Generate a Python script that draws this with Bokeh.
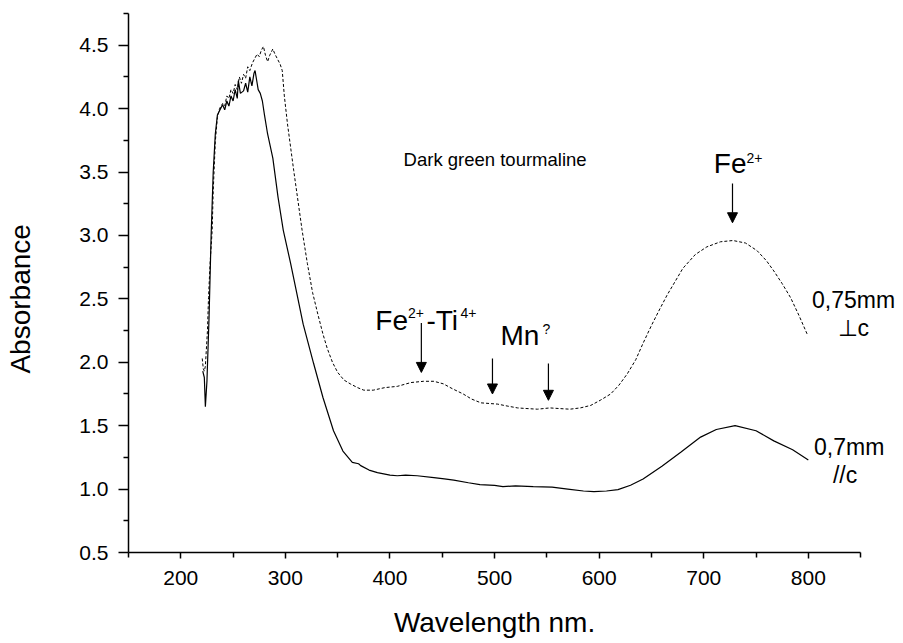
from bokeh.plotting import figure
from bokeh.models import (Range1d, FixedTicker, PrintfTickFormatter, Label, Arrow, NormalHead,
                          LinearAxis)
from bokeh.embed import file_html
from bokeh.resources import INLINE

# ---- data ----
perp_nm = [220.5, 221.5, 222.5, 223.5, 225.5, 226.5, 228, 230, 231, 233, 235, 237, 240, 242, 244, 246,
           248, 250, 252, 254, 256, 258, 260, 262, 264, 266, 268.5, 271, 273, 275, 277, 279, 281, 283,
           285, 288, 290, 292.5, 295, 297, 299, 302, 308, 316, 321, 326, 331, 336, 340, 345, 350, 356,
           362, 369, 375, 384, 395, 407, 420, 432, 442, 451, 460, 470, 478, 487, 495, 503, 512, 522,
           531, 541, 547, 553, 562, 572, 582, 592, 601, 611, 619, 627, 635, 642, 650, 658, 665, 680, 692, 703,
           716, 728, 740, 751, 760, 767, 775, 783, 791, 799]
perp_abs = [2.03, 1.95, 1.93, 1.97, 2.25, 2.51, 2.78, 3.04, 3.35, 3.74, 3.93, 4.00, 4.04, 4.02, 4.10, 4.08,
            4.15, 4.12, 4.19, 4.15, 4.25, 4.20, 4.27, 4.24, 4.33, 4.30, 4.36, 4.40, 4.43, 4.41, 4.46, 4.49, 4.42, 4.37,
            4.42, 4.47, 4.43, 4.39, 4.35, 4.30, 4.10, 3.88, 3.51, 3.04, 2.78, 2.55, 2.38, 2.22, 2.11, 2.00, 1.92, 1.86,
            1.83, 1.80, 1.78, 1.78, 1.80, 1.81, 1.84, 1.85, 1.85, 1.83, 1.79, 1.75, 1.71, 1.68, 1.675, 1.67, 1.655, 1.64,
            1.635, 1.63, 1.635, 1.64, 1.635, 1.63, 1.64, 1.66, 1.70, 1.75, 1.82, 1.91, 2.02, 2.15, 2.29, 2.42, 2.53, 2.74, 2.85, 2.91,
            2.95, 2.96, 2.94, 2.88, 2.80, 2.72, 2.62, 2.51, 2.37, 2.22]

par_nm = [221, 222.5, 223.5, 225, 227, 229, 231, 233, 235, 238, 240, 242, 244, 246, 248, 250, 252, 254,
          255, 257, 260, 262, 264, 266, 268, 270, 271, 273, 274, 276, 278, 280, 283, 288, 293, 298, 305,
          310, 317, 327, 336, 346, 355, 364, 370, 372, 380, 388, 400, 407, 415, 426, 442, 452, 461, 475,
          486, 500, 508, 520, 537, 555, 570, 585, 595, 607, 618, 630, 642, 660, 678, 697, 712, 730, 750,
          767, 785, 800]
par_abs = [1.93, 1.88, 1.65, 1.85, 2.35, 3.0, 3.5, 3.8, 3.95, 4.00, 4.03, 3.99, 4.06, 4.02, 4.10, 4.06, 4.15, 4.08,
           4.22, 4.12, 4.14, 4.20, 4.13, 4.25, 4.18, 4.28, 4.30, 4.20, 4.15, 4.12, 4.06, 3.95, 3.80, 3.61, 3.30, 3.04, 2.78,
           2.58, 2.30, 1.99, 1.72, 1.46, 1.30, 1.21, 1.20, 1.185, 1.15, 1.13, 1.11, 1.105, 1.11, 1.105, 1.09, 1.08, 1.07, 1.05,
           1.035, 1.03, 1.02, 1.025, 1.02, 1.015, 1.00, 0.985, 0.98, 0.985, 0.996, 1.03, 1.08, 1.18, 1.29, 1.41, 1.47, 1.50, 1.46,
           1.38, 1.31, 1.23]

x_major = [200, 300, 400, 500, 600, 700, 800]
x_minor = [150, 250, 350, 450, 550, 650, 750, 850]
y_major = [0.5, 1.0, 1.5, 2.0, 2.5, 3.0, 3.5, 4.0, 4.5]
y_minor = [0.75, 1.25, 1.75, 2.25, 2.75, 3.25, 3.75, 4.25, 4.75]
x_title = "Wavelength nm."
y_title = "Absorbance"

# arrows: (x, y_start, y_end)
arrow_x = [727.5, 430, 498, 551.5]
arrow_y0 = [3.41, 2.31, 2.03, 1.99]
arrow_y1 = [3.10, 1.92, 1.75, 1.70]

FONT = "Liberation Sans"

# frame extends to the right edge so annotation texts beyond 850 nm are not clipped;
# the axis itself is bounded to 150..850
p = figure(width=903, height=643, output_backend="svg", toolbar_location=None,
           x_range=Range1d(150, 891), y_range=Range1d(0.5, 4.75),
           min_border_left=128, min_border_right=0, min_border_top=13, min_border_bottom=91)
p.outline_line_color = None
p.xgrid.visible = False
p.ygrid.visible = False
p.background_fill_color = "white"
p.border_fill_color = "white"

p.line(perp_nm, perp_abs, line_color="black", line_width=1, line_dash="3 2")
p.line(par_nm, par_abs, line_color="black", line_width=1.2)

for ax, maj, mino, fmt in ((p.xaxis[0], x_major, x_minor, "%d"), (p.yaxis[0], y_major, y_minor, "%.1f")):
    ax.ticker = FixedTicker(ticks=maj, minor_ticks=mino)
    ax.formatter = PrintfTickFormatter(format=fmt)
    ax.axis_line_width = 1.5
    ax.axis_line_color = "black"
    ax.major_tick_line_width = 1.5
    ax.minor_tick_line_width = 1.5
    ax.major_tick_in = 0
    ax.minor_tick_in = 0
    ax.major_label_text_font = FONT
    ax.major_label_text_font_size = "21px"
    ax.major_label_text_color = "black"

p.xaxis.bounds = (150, 850)
p.yaxis.bounds = (0.5, 4.75)
p.xaxis.major_tick_out = 6
p.xaxis.minor_tick_out = 5
p.yaxis.major_tick_out = 10
p.yaxis.minor_tick_out = 5
p.xaxis.major_label_standoff = 12
p.yaxis.major_label_standoff = 10


# axis titles: carried by plain outer axes so they can sit off-centre like in the reference
def title_axis(side, tick, text, standoff, orientation):
    t = LinearAxis(ticker=FixedTicker(ticks=[tick], minor_ticks=[]),
                   major_label_overrides={tick: text},
                   axis_line_color=None, major_tick_line_color=None, minor_tick_line_color=None,
                   major_tick_out=0, major_tick_in=0, minor_tick_out=0, minor_tick_in=0,
                   major_label_standoff=standoff, major_label_orientation=orientation,
                   major_label_text_font=FONT, major_label_text_font_size="28px",
                   major_label_text_color="black")
    p.add_layout(t, side)


title_axis("below", 500, x_title, 19, "horizontal")
title_axis("left", 2.5, y_title, 40, "parallel")

PX_PER_UNIT = 127.0


def lab(x, y, text, size):
    # y is the visual baseline; shift to compensate for the renderer's baseline placement
    shift = 0.38 * size / PX_PER_UNIT
    p.add_layout(Label(x=x, y=y + shift, text=text, text_font=FONT, text_font_size=f"{size}px",
                       text_color="black", text_align="left", text_baseline="alphabetic"))


lab(413, 3.54, "Dark green tourmaline", 18.5)
lab(709.6, 3.484, "Fe", 28)
lab(740.8, 3.57, "2+", 14)
lab(386, 2.248, "Fe", 28)
lab(417.2, 2.343, "2+", 14)
lab(434.9, 2.248, "-Ti", 28)
lab(467.4, 2.343, "4+", 14)
lab(505.6, 2.13, "Mn", 28)
lab(545.8, 2.224, "?", 14)
lab(803.5, 2.42, "0,75mm", 23)
lab(828, 2.20, "\u22a5c", 23)
lab(805.5, 1.264, "0,7mm", 23)
lab(823.5, 1.04, "//c", 23)

for xa, ya, yb in zip(arrow_x, arrow_y0, arrow_y1):
    p.add_layout(Arrow(x_start=xa, y_start=ya, x_end=xa, y_end=yb, line_width=1.2, line_color="black",
                       end=NormalHead(size=10, fill_color="black", line_color="black", line_width=1)))

open("out.html", "w").write(file_html(p, INLINE))
